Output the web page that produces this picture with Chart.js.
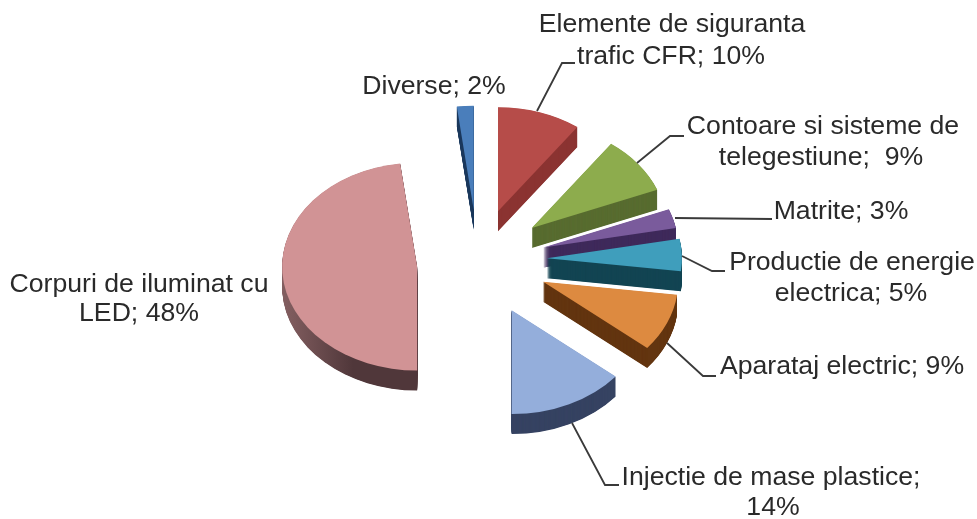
<!DOCTYPE html>
<html>
<head>
<meta charset="utf-8">
<title>Pie</title>
<script src="https://cdn.jsdelivr.net/npm/chart.js@4/dist/chart.umd.js"></script>
<style>
  html, body { margin: 0; padding: 0; background: #fff; }
  canvas { display: block; }
</style>
</head>
<body>
<canvas id="chartPie" width="977" height="519"></canvas>
<script>
// Data
const categories = ['Diverse', 'Elemente de siguranta trafic CFR', 'Contoare si sisteme de telegestiune', 'Matrite',
  'Productie de energie electrica', 'Aparataj electric', 'Injectie de mase plastice', 'Corpuri de iluminat cu LED'];
const values = [2, 10, 9, 3, 5, 9, 14, 48];

// Colours
const topColors = ['#4a7ebb', '#b64c49', '#8dac4d', '#7a5b9c', '#3f9ebc', '#dd8a40', '#94aedb', '#d19395'];
const sideColors = ['#1d3a5e', '#8b3331', '#586c30', '#3f2a5b', '#134553', '#633510', '#364362', '#50373a'];

// Look of the 3D pie
const squash = 0.77;
const depth = 20;
const explode = [68, 68, 68, 68, 70, 71, 72, 64];
// small shifts, the original has some perspective
const nudge = [[-2, 2], [-3, 1], [-2, 0], [-2, 2], [-3, 0], [-2, 0], [1, 0], [1, 3.5]];

// Text labels: [text, centre x, centre y]
const labelLines = [
  ['Elemente de siguranta', 672, 25], ['trafic CFR; 10%', 671, 57],
  ['Diverse; 2%', 434, 87],
  ['Contoare si sisteme de', 823, 127], ['telegestiune;  9%', 821, 158],
  ['Matrite; 3%', 841, 212],
  ['Productie de energie', 852, 263], ['electrica; 5%', 851, 294],
  ['Aparataj electric; 9%', 842, 367],
  ['Injectie de mase plastice;', 771, 478], ['14%', 773, 508],
  ['Corpuri de iluminat cu', 139, 285], ['LED; 48%', 139, 314]
];
const textStretch = 1.065;
const leaders = [
  [[537, 111], [562, 63], [575, 63]],
  [[637, 163], [670, 136], [684, 136]],
  [[675, 218], [772, 219]],
  [[682, 256], [712, 271], [725, 271]],
  [[667, 343], [703, 376], [716, 376]],
  [[572, 423], [605, 485], [619, 485]]
];

const pie3d = {
  id: 'pie3d',
  beforeDatasetsDraw(chart) {
    const ctx = chart.ctx;
    const arcs = chart.getDatasetMeta(0).data;

    const drawArc = (arc, i, dy, color) => {
      const mid = (arc.startAngle + arc.endAngle) / 2;
      const saved = arc.options;
      ctx.save();
      ctx.translate(arc.x + nudge[i][0], arc.y + nudge[i][1] + dy);
      ctx.scale(1, squash);
      ctx.translate(-arc.x, -arc.y);
      ctx.translate(Math.cos(mid) * explode[i], Math.sin(mid) * explode[i]);
      arc.options = Object.assign({}, saved, { backgroundColor: color });
      arc.draw(ctx);
      arc.options = saved;
      ctx.restore();
    };

    // sides first, tops over them
    arcs.forEach((arc, i) => {
      let color = sideColors[i];
      if (i === arcs.length - 1) {
        // Corpuri has a lit side
        const left = arc.x - explode[i] - arc.outerRadius;
        color = ctx.createLinearGradient(left, 0, left + arc.outerRadius, 0);
        color.addColorStop(0, '#a87a7c');
        color.addColorStop(0.55, '#7d5a5c');
        color.addColorStop(1, sideColors[i]);
      }
      for (let d = depth; d > 0; d -= 0.5) {
        drawArc(arc, i, d, color);
      }
    });
    arcs.forEach((arc, i) => drawArc(arc, i, 0, topColors[i]));
    return false;
  },
  afterDraw(chart) {
    const ctx = chart.ctx;
    ctx.save();
    ctx.strokeStyle = '#3a3a3a';
    ctx.lineWidth = 1.8;
    leaders.forEach(points => {
      ctx.beginPath();
      points.forEach((p, i) => (i ? ctx.lineTo(p[0], p[1]) : ctx.moveTo(p[0], p[1])));
      ctx.stroke();
    });
    ctx.fillStyle = '#2a2a2a';
    ctx.font = '25px "Liberation Sans"';
    ctx.textAlign = 'center';
    ctx.textBaseline = 'middle';
    labelLines.forEach(l => {
      ctx.save();
      ctx.translate(l[1], l[2]);
      ctx.scale(textStretch, 1);
      ctx.fillText(l[0], 0, 0);
      ctx.restore();
    });
    ctx.restore();
  }
};

const ctxPie = document.getElementById('chartPie').getContext('2d');
const pieChart = new Chart(ctxPie, {
  type: 'pie',
  data: {
    labels: categories,
    datasets: [{
      data: values,
      backgroundColor: topColors,
      borderWidth: 0
    }]
  },
  options: {
    responsive: false,
    animation: false,
    radius: 135,
    rotation: -7.2,
    layout: { padding: { right: 17, top: 1 } },
    plugins: {
      legend: { display: false },
      tooltip: { enabled: false }
    }
  },
  plugins: [pie3d]
});
</script>
</body>
</html>
